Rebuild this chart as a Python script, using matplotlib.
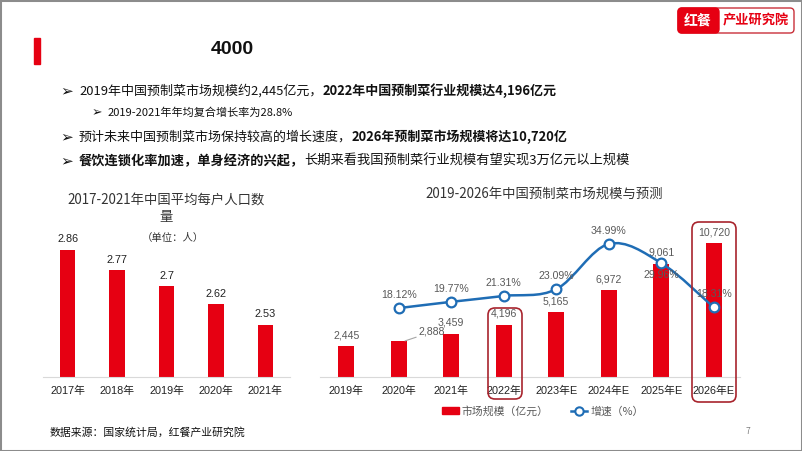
import matplotlib
matplotlib.use('Agg')
import matplotlib.pyplot as plt
from matplotlib.patches import Rectangle, FancyBboxPatch, PathPatch
from matplotlib.path import Path
from matplotlib.lines import Line2D

plt.rcParams['font.family'] = ['Noto Sans CJK SC', 'DejaVu Sans']

# 左图：平均每户人口数量
hh_years = ['2017年', '2018年', '2019年', '2020年', '2021年']
hh_values = [2.86, 2.77, 2.7, 2.62, 2.53]

# 右图：预制菜市场规模与增速
mk_years = ['2019年', '2020年', '2021年', '2022年', '2023年E', '2024年E', '2025年E', '2026年E']
mk_size = [2445, 2888, 3459, 4196, 5165, 6972, 9061, 10720]
mk_growth = [None, 18.12, 19.77, 21.31, 23.09, 34.99, 29.96, 18.31]

W, H = 802, 451
RED = '#e60012'
BLUE = '#1f6db5'
GRAY = '#595959'
NUM_FONT = ['Liberation Sans', 'Noto Sans CJK SC']


def fx(x):
    return x / W


def fy(y):
    return 1 - y / H


fig = plt.figure(figsize=(W / 100, H / 100), dpi=100)
fig.patch.set_facecolor('white')
fig.patches.append(Rectangle((0, 0), 1, 1, transform=fig.transFigure, fill=False,
                             edgecolor='#8c8c8c', lw=2.2))

# 标题
fig.patches.append(Rectangle((fx(34), fy(64)), fx(6), 26 / H, transform=fig.transFigure,
                             color=RED))
fig.text(fx(232), fy(50), '4000', fontsize=14, fontweight='bold', ha='center', va='center',
         family=NUM_FONT, color='#111111')

# logo
inch = fig.dpi_scale_trans
fig.patches.append(FancyBboxPatch((678 / 100, (H - 33) / 100), 116 / 100, 25 / 100,
                                  boxstyle='round,pad=0,rounding_size=0.04', transform=inch,
                                  facecolor='white', edgecolor='#c9303a', lw=1))
fig.patches.append(FancyBboxPatch((678 / 100, (H - 33) / 100), 41 / 100, 25 / 100,
                                  boxstyle='round,pad=0,rounding_size=0.04', transform=inch,
                                  facecolor=RED, edgecolor=RED, lw=1))
fig.text(fx(698), fy(20.5), '红餐', fontsize=10, fontweight='bold', color='white',
         ha='center', va='center')
fig.text(fx(756), fy(20.5), '产业研究院', fontsize=9.5, fontweight='bold', color=RED,
         ha='center', va='center')

# 要点
renderer = fig.canvas.get_renderer()


def bullet(x_arrow, x_text, y, parts, size, arrow_size):
    fig.text(fx(x_arrow), fy(y), '➢', fontsize=arrow_size, family=['DejaVu Sans'],
             ha='left', va='center', color='#111111')
    x = fx(x_text)
    for txt, bold in parts:
        t = fig.text(x, fy(y), txt, fontsize=size, fontweight='bold' if bold else 'normal',
                     ha='left', va='center', color='#111111')
        bb = t.get_window_extent(renderer=renderer)
        x = bb.x1 / W


bullet(60, 79, 91, [('2019年中国预制菜市场规模约2,445亿元，', False),
                    ('2022年中国预制菜行业规模达4,196亿元', True)], 9.35, 11)
bullet(92, 108, 113, [('2019-2021年年均复合增长率为28.8%', False)], 8.0, 9)
bullet(60, 79, 137, [('预计未来中国预制菜市场保持较高的增长速度，', False),
                     ('2026年预制菜市场规模将达10,720亿', True)], 9.35, 11)
bullet(60, 79, 161, [('餐饮连锁化率加速，单身经济的兴起，', True),
                     ('长期来看我国预制菜行业规模有望实现3万亿元以上规模', False)], 9.5, 11)

# 左图
fig.text(fx(166), fy(201), '2017-2021年中国平均每户人口数', fontsize=9.6, color='#333333',
         ha='center', va='center')
fig.text(fx(166), fy(217), '量', fontsize=9.6, color='#333333', ha='center', va='center')
fig.text(fx(173), fy(238), '（单位：人）', fontsize=7.5, color='#333333', ha='center', va='center')

ax1 = fig.add_axes([fx(43), fy(377), 247 / W, 160 / H])
ax1.bar(range(len(hh_years)), hh_values, width=0.31, color=RED)
ax1.set_xlim(-0.5, len(hh_years) - 0.5)
ax1.set_ylim(2.3, 2.3 + 160 / 227)
for i, v in enumerate(hh_values):
    ax1.annotate(f'{v:g}', (i, v), xytext=(0, 7.5), textcoords='offset points', ha='center',
                 va='center', fontsize=7.8, color='#222222', family=NUM_FONT)
ax1.set_xticks(range(len(hh_years)))
ax1.set_xticklabels(hh_years, fontsize=7.8, color='#222222', family=NUM_FONT)
ax1.tick_params(axis='x', length=0, pad=6)
ax1.set_yticks([])
for s in ['left', 'right', 'top']:
    ax1.spines[s].set_visible(False)
ax1.spines['bottom'].set_color('#d9d9d9')
ax1.patch.set_alpha(0)

# 右图
fig.text(fx(544), fy(194), '2019-2026年中国预制菜市场规模与预测', fontsize=9.6, color='#333333',
         ha='center', va='center')

ax2 = fig.add_axes([fx(320), fy(377), 420 / W, 162 / H])
xs = list(range(len(mk_years)))
ax2.bar(xs, mk_size, width=0.3, color=RED, zorder=2)
ax2.set_xlim(-0.5, len(mk_years) - 0.5)
ax2.set_ylim(0, 162 * 80)
for i, v in enumerate(mk_size):
    if i == 1:
        ax2.annotate(f'{v:,}', (i + 0.12, v), xytext=(10, 6.5), textcoords='offset points',
                     ha='left', va='center', fontsize=7.6, color=GRAY, family=NUM_FONT,
                     arrowprops=dict(arrowstyle='-', color='#a6a6a6', lw=0.8,
                                     shrinkA=0, shrinkB=0))
    else:
        ax2.annotate(f'{v:,}', (i, v), xytext=(0, 7.8), textcoords='offset points',
                     ha='center', va='center', fontsize=7.6, color=GRAY, family=NUM_FONT)
ax2.set_xticks(xs)
ax2.set_xticklabels(mk_years, fontsize=7.8, color='#222222', family=NUM_FONT)
ax2.tick_params(axis='x', length=0, pad=6)
ax2.set_yticks([])
for s in ['left', 'right', 'top']:
    ax2.spines[s].set_visible(False)
ax2.spines['bottom'].set_color('#d9d9d9')
ax2.patch.set_alpha(0)

ax3 = ax2.twinx()
ax3.set_ylim(0, 162 * 0.263)
ax3.set_yticks([])
for s in ax3.spines.values():
    s.set_visible(False)

# 平滑曲线（贝塞尔）
pts = [(i, g) for i, g in enumerate(mk_growth) if g is not None]
verts = [pts[0]]
codes = [Path.MOVETO]
for k in range(len(pts) - 1):
    p0 = pts[max(k - 1, 0)]
    p1 = pts[k]
    p2 = pts[k + 1]
    p3 = pts[min(k + 2, len(pts) - 1)]
    c1 = (p1[0] + (p2[0] - p0[0]) / 6, p1[1] + (p2[1] - p0[1]) / 6)
    c2 = (p2[0] - (p3[0] - p1[0]) / 6, p2[1] - (p3[1] - p1[1]) / 6)
    verts += [c1, c2, p2]
    codes += [Path.CURVE4] * 3
ax3.add_patch(PathPatch(Path(verts, codes), fill=False, edgecolor=BLUE, lw=1.8, zorder=3))
ax3.plot([p[0] for p in pts], [p[1] for p in pts], linestyle='none', marker='o',
         markersize=7, markerfacecolor='white', markeredgecolor=BLUE, markeredgewidth=1.6,
         zorder=4)
for i, g in pts:
    off = -8.5 if i == 6 else 9.5
    ax3.annotate(f'{g:.2f}%', (i, g), xytext=(0, off), textcoords='offset points',
                 ha='center', va='center', fontsize=7.6, color=GRAY, family=NUM_FONT, zorder=5)

# 红框
for x0, y0, x1, y1 in [(488, 308, 522, 399), (692, 222, 736, 402)]:
    fig.patches.append(FancyBboxPatch((x0 / 100, (H - y1) / 100), (x1 - x0) / 100,
                                      (y1 - y0) / 100,
                                      boxstyle='round,pad=0,rounding_size=0.07', transform=inch,
                                      fill=False, edgecolor='#a8242d', lw=1.2, zorder=10))

# 图例
handles = [Rectangle((0, 0), 1, 1, color=RED),
           Line2D([], [], color=BLUE, lw=1.8, marker='o', markersize=6,
                  markerfacecolor='white', markeredgecolor=BLUE, markeredgewidth=1.5)]
leg = fig.legend(handles, ['市场规模（亿元）', '增速（%）'], loc='center',
                 bbox_to_anchor=(fx(543), fy(411)), ncol=2, frameon=False, fontsize=7.8,
                 handlelength=1.5, handleheight=0.7, columnspacing=2.0, handletextpad=0.3)
for t in leg.get_texts():
    t.set_color(GRAY)

# 数据来源
fig.text(fx(50), fy(432), '数据来源：国家统计局，红餐产业研究院', fontsize=7.8, color='#111111',
         ha='left', va='center')
fig.text(fx(748), fy(431), '7', fontsize=6, color='#7f7f7f', ha='center', va='center')

fig.savefig('out.png', dpi=100)
